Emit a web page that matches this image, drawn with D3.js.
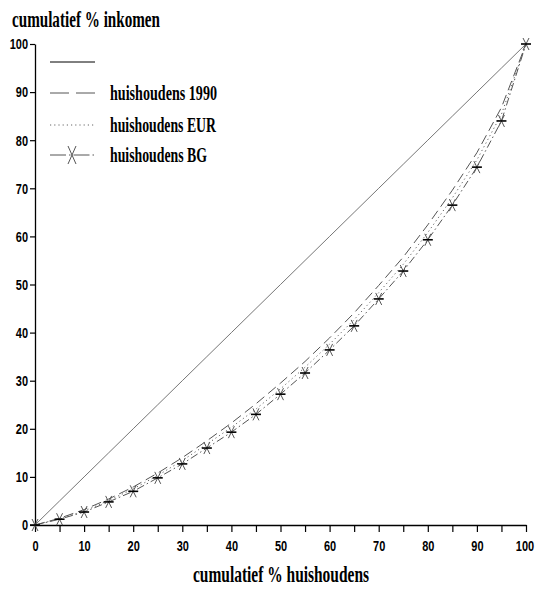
<!DOCTYPE html>
<html>
<head>
<meta charset="utf-8">
<script src="https://cdn.jsdelivr.net/npm/d3@7"></script>
<style>
  html, body { margin: 0; padding: 0; background: #fff; }
  svg { display: block; }
  .tick text { font-family: "Liberation Sans", Arial, sans-serif; font-weight: bold; font-size: 15px; fill: #000; }
  .serif { font-family: "Liberation Serif", "Times New Roman", serif; font-weight: bold; fill: #000; }
</style>
</head>
<body>
<script>
// ---- data ----
const xValues = [0,5,10,15,20,25,30,35,40,45,50,55,60,65,70,75,80,85,90,95,100];
const equality = [0,5,10,15,20,25,30,35,40,45,50,55,60,65,70,75,80,85,90,95,100];
const hh1990 = [0,1.4,3.2,5.4,7.9,10.8,14.0,17.5,21.2,25.2,29.5,34.0,38.9,44.1,49.8,55.7,62.4,69.6,77.4,86.8,100];
const hhEUR  = [0,1.3,2.9,5.1,7.5,10.3,13.4,16.8,20.3,24.1,28.3,32.8,37.6,42.7,48.3,54.2,60.8,68.0,75.9,85.4,100];
const hhBG   = [0,1.2,2.7,4.8,7.0,9.8,12.7,16.0,19.3,23.0,27.2,31.6,36.4,41.4,47.0,52.8,59.3,66.5,74.4,84.0,100];
const seriesNames = ["", "huishoudens 1990", "huishoudens EUR", "huishoudens BG"];
const xTicks = [0,5,10,15,20,25,30,35,40,45,50,55,60,65,70,75,80,85,90,95,100];
const yTicks = [0,10,20,30,40,50,60,70,80,90,100];
const yTitle = "cumulatief % inkomen";
const xTitle = "cumulatief % huishoudens";

const W = 540, H = 592;
const svg = d3.select("body").append("svg").attr("width", W).attr("height", H);

const x = d3.scaleLinear().domain([0, 100]).range([35, 526]);
const y = d3.scaleLinear().domain([0, 100]).range([525, 44]);

// axes
const xAxis = svg.append("g").attr("transform", `translate(0,${y(0)})`)
  .call(d3.axisBottom(x).tickValues(xTicks).tickSize(7).tickSizeOuter(0).tickPadding(8)
    .tickFormat(d => d % 10 === 0 ? d : ""));
const yAxis = svg.append("g").attr("transform", `translate(${x(0)},0)`)
  .call(d3.axisLeft(y).tickValues(yTicks).tickSize(5).tickSizeOuter(0).tickPadding(2));
[xAxis, yAxis].forEach(g => {
  g.selectAll("path.domain").attr("stroke", "#000").attr("stroke-width", 1.3);
  g.selectAll(".tick line").attr("stroke", "#000").attr("stroke-width", 1.2);
  g.selectAll(".tick text").each(function() {
    const t = d3.select(this).text();
    if (t.length) d3.select(this).attr("textLength", t.length * 6.1).attr("lengthAdjust", "spacingAndGlyphs");
  });
});
xAxis.selectAll(".tick text").filter(d => d === 100).attr("dx", -1.5);

// lines
const line = d3.line().x((d, i) => x(xValues[i])).y(d => y(d));
const styles = [
  { data: equality, dash: null, legendDash: null, color: "#666", w: 0.9 },
  { data: hh1990, dash: "10,5", legendDash: "19,7", color: "#555", w: 1 },
  { data: hhEUR, dash: "1.2,3", legendDash: "1.2,3", color: "#666", w: 1 },
  { data: hhBG, dash: "8,3,1.5,3", legendDash: "16,3,1.5,3", color: "#555", w: 1 }
];
styles.forEach(s => {
  svg.append("path").datum(s.data)
    .attr("d", line).attr("fill", "none")
    .attr("stroke", s.color).attr("stroke-width", s.w)
    .attr("stroke-dasharray", s.dash);
});

// markers on BG series
const mk = svg.append("g");
hhBG.forEach((v, i) => {
  const cx = x(xValues[i]), cy = y(v);
  mk.append("path")
    .attr("d", `M${cx-3},${cy-6}L${cx+3},${cy+6}M${cx+3},${cy-6}L${cx-3},${cy+6}`)
    .attr("stroke", "#555").attr("stroke-width", 1).attr("fill", "none");
  mk.append("line").attr("x1", cx - 5).attr("x2", cx + 5).attr("y1", cy).attr("y2", cy)
    .attr("stroke", "#000").attr("stroke-width", 1.6);
});

// titles
svg.append("text").attr("class", "serif").attr("x", 12).attr("y", 27)
  .attr("font-size", 24).attr("textLength", 148).attr("lengthAdjust", "spacingAndGlyphs")
  .text(yTitle);
svg.append("text").attr("class", "serif").attr("x", 193).attr("y", 582)
  .attr("font-size", 24).attr("textLength", 176).attr("lengthAdjust", "spacingAndGlyphs")
  .text(xTitle);

// legend
const legY = [62, 93, 125, 155];
const leg = svg.append("g");
styles.forEach((s, i) => {
  leg.append("line").attr("x1", 50).attr("x2", 95).attr("y1", legY[i]).attr("y2", legY[i])
    .attr("stroke", i === 0 ? "#000" : s.color).attr("stroke-width", 1)
    .attr("stroke-dasharray", s.legendDash);
  if (seriesNames[i]) {
    leg.append("text").attr("class", "serif").attr("x", 110).attr("y", legY[i] + 7)
      .attr("font-size", 22)
      .attr("textLength", i === 1 ? 107 : (i === 2 ? 106 : 97))
      .attr("lengthAdjust", "spacingAndGlyphs")
      .text(seriesNames[i]);
  }
});
// legend marker for BG
{
  const cx = 72, cy = legY[3];
  leg.append("path")
    .attr("d", `M${cx-4},${cy-9}L${cx+4},${cy+9}M${cx+4},${cy-9}L${cx-4},${cy+9}`)
    .attr("stroke", "#555").attr("stroke-width", 1).attr("fill", "none");
}
</script>
</body>
</html>
